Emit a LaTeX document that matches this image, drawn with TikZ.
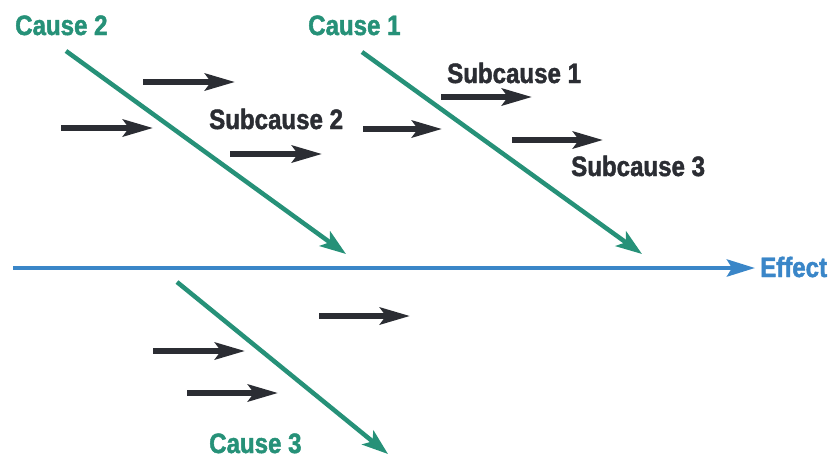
\documentclass[tikz,border=0pt]{standalone}
\usepackage{fontspec}
\newfontfamily\lblfont{Liberation Sans}[FakeStretch=0.86,FakeBold=1.6]
\usetikzlibrary{arrows.meta}
\definecolor{causeteal}{RGB}{38,145,120}
\definecolor{effectblue}{RGB}{58,134,200}
\definecolor{subdark}{RGB}{43,45,51}
\tikzset{
  lbl/.style={inner sep=0pt, anchor=base west, font=\lblfont\bfseries\fontsize{28}{28}\selectfont},
  causelbl/.style={lbl, text=causeteal},
  sublbl/.style={lbl, text=subdark},
  effectlbl/.style={lbl, text=effectblue},
  bone/.style={draw=causeteal, line width=4.5pt, -{Stealth[length=26pt,width=18pt,inset=6pt]}},
  spine/.style={draw=effectblue, line width=4.5pt, -{Stealth[length=28pt,width=17pt,inset=5pt]}},
  subarrow/.style={draw=subdark, line width=5.5pt, -{Stealth[length=30pt,width=17pt,inset=6pt]}}
}
\begin{document}
\begin{tikzpicture}[x=1pt,y=-1pt]
\useasboundingbox (0,0) rectangle (833,459);

% labels
\node[causelbl]  (c2)  at (15,35)   {Cause 2};
\node[causelbl]  (c1)  at (308,35)  {Cause 1};
\node[causelbl]  (c3)  at (209,453) {Cause 3};
\node[sublbl]    (s2)  at (209,129) {Subcause 2};
\node[sublbl]    (s1)  at (447,83)  {Subcause 1};
\node[sublbl]    (s3)  at (571,176) {Subcause 3};
\node[effectlbl] (eff) at (760,277) {Effect};

% spine
\coordinate (spS) at (13,268);
\coordinate (spE) at (755,268);
\draw[spine] (spS) -- (spE);

% cause bones
\coordinate (b2s) at (66,51);   \coordinate (b2e) at (346,254);
\coordinate (b1s) at (362,52);  \coordinate (b1e) at (642,254);
\coordinate (b3s) at (177,282); \coordinate (b3e) at (388,454);
\draw[bone] (b2s) -- (b2e);
\draw[bone] (b1s) -- (b1e);
\draw[bone] (b3s) -- (b3e);

% subcause arrows
\coordinate (a1s) at (143,82);  \coordinate (a1e) at (235,82);
\coordinate (a2s) at (61,128);  \coordinate (a2e) at (153,128);
\coordinate (a3s) at (230,154); \coordinate (a3e) at (322,154);
\coordinate (a4s) at (363,129); \coordinate (a4e) at (442,129);
\coordinate (a5s) at (441,97);  \coordinate (a5e) at (532,97);
\coordinate (a6s) at (512,140); \coordinate (a6e) at (603,140);
\coordinate (a7s) at (319,316); \coordinate (a7e) at (410,316);
\coordinate (a8s) at (153,351); \coordinate (a8e) at (245,351);
\coordinate (a9s) at (187,393); \coordinate (a9e) at (278,393);
\foreach \i in {1,...,9}{
  \draw[subarrow] (a\i s) -- (a\i e);
}
\end{tikzpicture}
\end{document}
